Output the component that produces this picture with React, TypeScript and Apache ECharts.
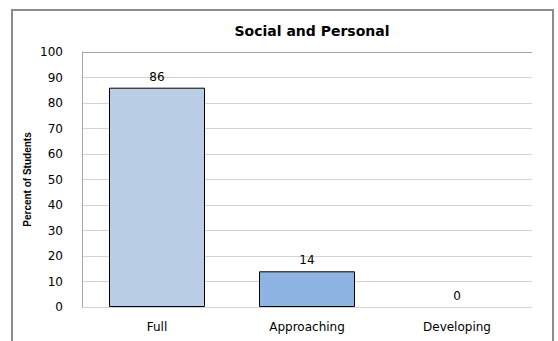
import React, { useEffect, useRef } from "react";
import * as echarts from "echarts";

// Share of students at each level
const categories: string[] = ["Full", "Approaching", "Developing"];
const percentValues: number[] = [86, 14, 0];
const barColors: string[] = ["#b9cde5", "#8eb4e3", "#8eb4e3"];

const chartTitle = "Social and Personal";
const yAxisTitle = "Percent of Students";

export default function App() {
  const ref = useRef<HTMLDivElement>(null);

  useEffect(() => {
    if (!ref.current) return;
    const chart = echarts.init(ref.current, null, { renderer: "svg" });
    chart.setOption({
      animation: false,
      backgroundColor: "#ffffff",
      title: {
        text: chartTitle,
        left: 307,
        top: 19,
        textAlign: "center",
        textStyle: {
          fontFamily: "DejaVu Sans",
          fontWeight: "bold",
          fontSize: 14,
          color: "#000000",
        },
      },
      graphic: [
        {
          type: "rect",
          shape: { x: 12, y: 10, width: 541, height: 345 },
          style: { fill: "none", stroke: "#8c8c8c", lineWidth: 2 },
          silent: true,
          z: 10,
        },
        {
          // plot area top edge
          type: "line",
          shape: { x1: 82, y1: 52.5, x2: 532, y2: 52.5 },
          style: { stroke: "#a6a6a6", lineWidth: 1 },
          silent: true,
          z: 5,
        },
      ],
      grid: { left: 82, right: 26, top: 52, bottom: 34, containLabel: false },
      xAxis: {
        type: "category",
        data: categories,
        axisLine: { show: false },
        axisTick: { show: false },
        axisLabel: {
          fontFamily: "DejaVu Sans",
          fontSize: 12,
          color: "#000000",
          margin: 14,
        },
      },
      yAxis: {
        type: "value",
        min: 0,
        max: 100,
        interval: 10,
        name: yAxisTitle,
        nameLocation: "middle",
        nameGap: 50,
        nameRotate: 90,
        nameMoveOverlap: false,
        nameTextStyle: {
          fontFamily: "Liberation Sans",
          fontWeight: "bold",
          fontSize: 10,
          color: "#000000",
        },
        axisLine: { show: true, lineStyle: { color: "#a6a6a6", width: 1 } },
        axisTick: { show: false },
        splitLine: { lineStyle: { color: "#d4d4d4", width: 1 } },
        axisLabel: {
          fontFamily: "DejaVu Sans",
          fontSize: 12,
          color: "#000000",
          margin: 19,
        },
      },
      series: [
        {
          type: "bar",
          barWidth: "64%",
          data: percentValues.map((v, i) => ({
            value: v,
            itemStyle: {
              color: barColors[i],
              borderColor: "#000000",
              borderWidth: v > 0 ? 1 : 0,
            },
          })),
          label: {
            show: true,
            position: "top",
            distance: 5,
            fontFamily: "DejaVu Sans",
            fontSize: 12,
            color: "#000000",
          },
        },
      ],
    });
    return () => chart.dispose();
  }, []);

  return (
    <div
      ref={ref}
      style={{ position: "fixed", left: 0, top: 0, width: 558, height: 341 }}
    />
  );
}
